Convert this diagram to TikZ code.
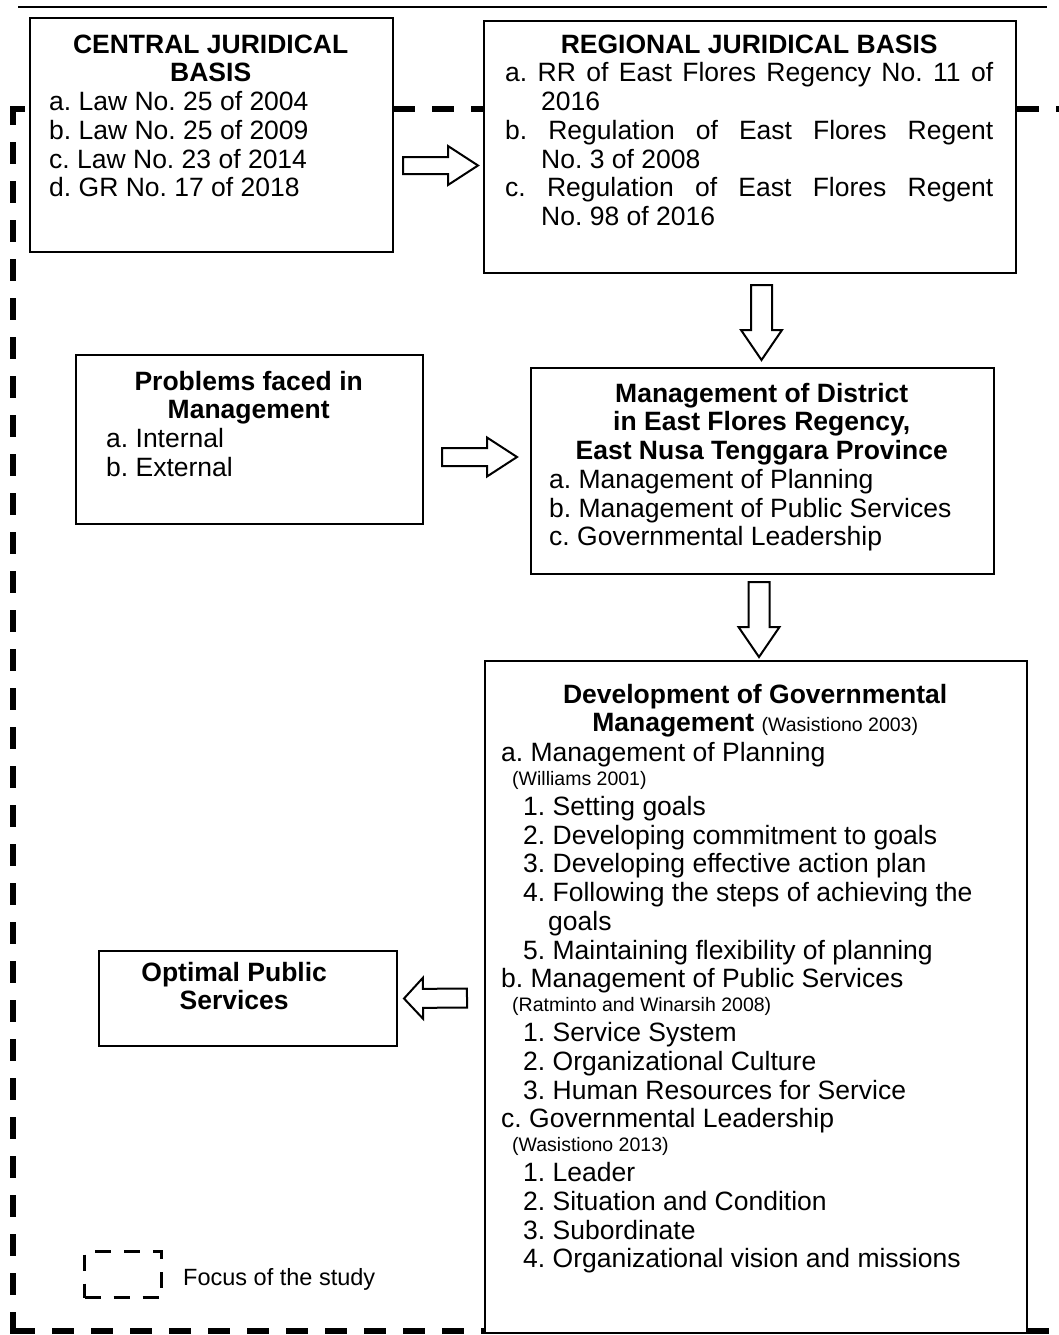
\documentclass[tikz,border=0pt]{standalone}
\usepackage{fontspec}
\setmainfont{Liberation Sans}
\usetikzlibrary{calc}
\frenchspacing
% first-row strut: node tops sit 20pt above the first baseline
\newcommand\fl{\rule{0pt}{20pt}}
\newcommand\sm{\fontsize{19.5}{23}\selectfont}
% block arrow from tail #2 to tip #3, shaft half-width #4, head half-width #5,
% head length #1
\newcommand\fatarrow[5][30pt]{%
  \coordinate (hb) at ($(#3)!#1!(#2)$);
  \draw[fat] ($(#2)!#4!90:(#3)$) -- ($(hb)!#4!90:(#3)$) -- ($(hb)!#5!90:(#3)$)
    -- (#3) -- ($(hb)!#5!-90:(#3)$) -- ($(hb)!#4!-90:(#3)$) -- ($(#2)!#4!-90:(#3)$) -- cycle;}
\begin{document}
\begin{tikzpicture}[x=1pt,y=1pt,
  box/.style={draw, line width=2pt, fill=white, inner sep=0pt, anchor=north west},
  txt/.style={anchor=north west, inner sep=0pt, align=left, font=\fontsize{26.5}{28.7}\selectfont},
  fat/.style={draw, line width=2pt, fill=white, line join=miter},
  focus/.style={line width=5.5pt, dash pattern=on 22pt off 17pt},
  keybox/.style={draw, line width=3pt, dash pattern=on 16pt off 13pt, inner sep=0pt, anchor=north west},
]
\useasboundingbox (0,0) rectangle (1059,-1335);
\fill[white] (0,0) rectangle (1059,-1335);

% rule across the top
\coordinate (rl) at (18,-7);
\coordinate (rr) at (1047,-7);
\draw[line width=1.5pt] (rl) -- (rr);

% dashed frame marking the focus of the study
\coordinate (ftl) at (13,-109);
\coordinate (ftr) at (1075,-109);
\coordinate (flt) at (13,-106.25);
\coordinate (flb) at (13,-1333.75);
\coordinate (fbl) at (13,-1331);
\coordinate (fbr) at (1075,-1331);
\draw[focus, dash phase=10pt] (ftl) -- (ftr);
\draw[focus] (flb) -- (flt);
\draw[focus] (fbl) -- (fbr);

% boxes
\node[box, minimum width=363pt, minimum height=234pt] (central) at (29,-17) {};
\node[box, minimum width=532pt, minimum height=252pt] (regional) at (483,-20) {};
\node[box, minimum width=347pt, minimum height=169pt] (problems) at (75,-354) {};
\node[box, minimum width=463pt, minimum height=206pt] (management) at (530,-367) {};
\node[box, minimum width=542pt, minimum height=672pt] (development) at (484,-660) {};
\node[box, minimum width=298pt, minimum height=95pt] (optimal) at (98,-950) {};

% box texts
\node[txt] (centraltext) at (29,-33) {%
\fl\makebox[363pt]{\bfseries CENTRAL JURIDICAL}\\
\makebox[363pt]{\bfseries BASIS}\\
\hspace*{20pt}a. Law No. 25 of 2004\\
\hspace*{20pt}b. Law No. 25 of 2009\\
\hspace*{20pt}c. Law No. 23 of 2014\\
\hspace*{20pt}d. GR No. 17 of 2018};

\node[txt] (regionaltext) at (483,-33) {%
\fl\makebox[532pt]{\bfseries REGIONAL JURIDICAL BASIS}\\
\hspace*{22pt}\makebox[488pt][s]{a. RR of East Flores Regency No. 11 of}\\
\hspace*{58pt}2016\\
\hspace*{22pt}\makebox[488pt][s]{b. Regulation of East Flores Regent}\\
\hspace*{58pt}No. 3 of 2008\\
\hspace*{22pt}\makebox[488pt][s]{c. Regulation of East Flores Regent}\\
\hspace*{58pt}No. 98 of 2016};

\node[txt] (problemstext) at (75,-370) {%
\fl\makebox[347pt]{\bfseries Problems faced in}\\
\makebox[347pt]{\bfseries Management}\\
\hspace*{31pt}a. Internal\\
\hspace*{31pt}b. External};

\node[txt] (managementtext) at (530,-382) {%
\fl\makebox[463pt]{\bfseries Management of District}\\
\makebox[463pt]{\bfseries in East Flores Regency,}\\
\makebox[463pt]{\bfseries East Nusa Tenggara Province}\\
\hspace*{19pt}a. Management of Planning\\
\hspace*{19pt}b. Management of Public Services\\
\hspace*{19pt}c. Governmental Leadership};

\node[txt] (developmenttext) at (484,-683) {%
\fl\makebox[542pt]{\bfseries Development of Governmental}\\
\makebox[542pt]{\textbf{Management} {\sm (Wasistiono 2003)}}\\[1pt]
\hspace*{17pt}a. Management of Planning\\[-5pt]
\hspace*{28pt}{\sm (Williams 2001)}\\[1.5pt]
\hspace*{39pt}1. Setting goals\\
\hspace*{39pt}2. Developing commitment to goals\\
\hspace*{39pt}3. Developing effective action plan\\
\hspace*{39pt}4. Following the steps of achieving the\\
\hspace*{64pt}goals\\
\hspace*{39pt}5. Maintaining flexibility of planning\\
\hspace*{17pt}b. Management of Public Services\\[-5pt]
\hspace*{28pt}{\sm (Ratminto and Winarsih 2008)}\\[1.5pt]
\hspace*{39pt}1. Service System\\
\hspace*{39pt}2. Organizational Culture\\
\hspace*{39pt}3. Human Resources for Service\\
\hspace*{17pt}c. Governmental Leadership\\[-5pt]
\hspace*{28pt}{\sm (Wasistiono 2013)}\\[1.5pt]
\hspace*{39pt}1. Leader\\
\hspace*{39pt}2. Situation and Condition\\
\hspace*{39pt}3. Subordinate\\
\hspace*{39pt}4. Organizational vision and missions};

\node[txt] (optimaltext) at (98,-961) {%
\fl\makebox[272pt]{\bfseries Optimal Public}\\
\makebox[272pt]{\bfseries Services}};

% legend
\node[keybox, minimum width=77pt, minimum height=46pt] (key) at (83,-1250) {};
\node[anchor=base west, inner sep=0pt, font=\fontsize{23.5}{28}\selectfont] (keylabel) at (183,-1285) {Focus of the study};

% block arrows between the boxes
\coordinate (a1t) at ($(central.east)+(9,-30.5)$);
\coordinate (a1h) at ($(regional.west)+(-5,-18.5)$);
\coordinate (a2t) at ($(regional.south)+(11.5,-11)$);
\coordinate (a2h) at ($(management.north)+(-1,7)$);
\coordinate (a3t) at ($(problems.east)+(18,-17.5)$);
\coordinate (a3h) at ($(management.west)+(-13,14)$);
\coordinate (a4t) at ($(management.south)+(-3.5,-7)$);
\coordinate (a4h) at ($(development.north)+(3,3)$);
\coordinate (a5t) at ($(development.west)+(-17,-1)$);
\coordinate (a5h) at ($(optimal.east)+(6,0)$);
\fatarrow{a1t}{a1h}{8.5pt}{19.5pt}
\fatarrow{a2t}{a2h}{10.5pt}{20.5pt}
\fatarrow{a3t}{a3h}{9pt}{19.5pt}
\fatarrow{a4t}{a4h}{10.5pt}{20.5pt}
\fatarrow[19pt]{a5t}{a5h}{9.5pt}{20.5pt}
\end{tikzpicture}
\end{document}
